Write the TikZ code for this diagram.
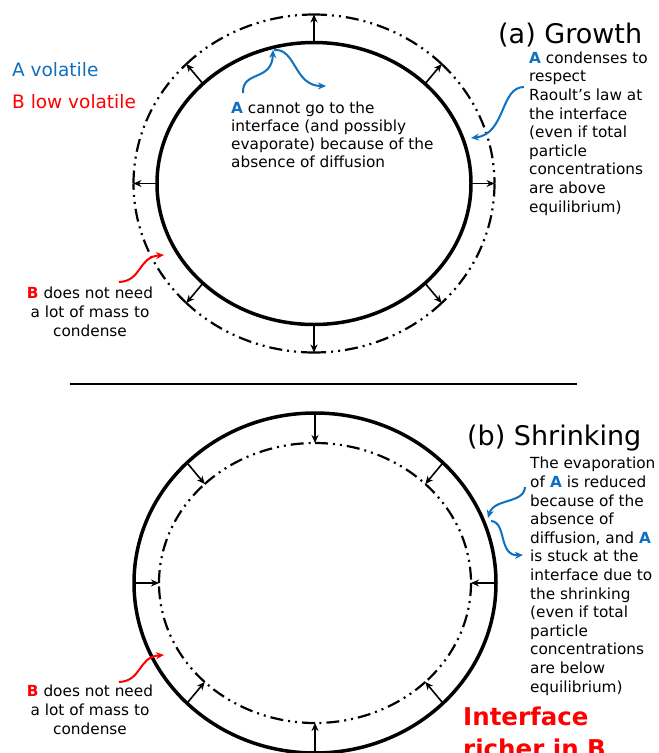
\documentclass[tikz,border=0pt]{standalone}
\usepackage{fontspec}
\setmainfont{DejaVu Sans}
\usetikzlibrary{arrows.meta,calc}
\definecolor{ablue}{RGB}{16,112,192}
\definecolor{bred}{RGB}{255,0,0}
\newcommand{\Abold}{\textbf{\textcolor{ablue}{A}}}
\newcommand{\Bbold}{\textbf{\textcolor{bred}{B}}}
\begin{document}
\begin{tikzpicture}[x=1pt,y=-1pt,
  body/.style={font=\fontsize{15.3}{18.6}\selectfont, align=left, inner sep=0pt, anchor=base west},
  bodyc/.style={font=\fontsize{15.3}{18.6}\selectfont, align=center, inner sep=0pt, anchor=base},
  legend/.style={font=\fontsize{18.5}{22}\selectfont, inner sep=0pt, anchor=base west},
  title/.style={font=\fontsize{27}{32}\selectfont, inner sep=0pt, anchor=base west},
  solidring/.style={line width=3.5pt},
  dashring/.style={line width=2.2pt, dash pattern=on 13pt off 5pt on 2pt off 5pt on 2pt off 5pt},
  radarrow/.style={line width=1.6pt, -{Stealth[length=8pt,width=7pt]}},
  bluecurve/.style={ablue, line width=2pt, -{Stealth[length=8pt,width=7pt]}},
  redcurve/.style={bred, line width=2pt, -{Stealth[length=8pt,width=7pt]}}]
\useasboundingbox (0,0) rectangle (659,753);
\fill[white] (0,0) rectangle (659,753);

% ---------- (a) Growth ----------
\coordinate (tc) at (314,183.5);
\draw[solidring] (tc) ellipse [x radius=157, y radius=141];
\foreach \a in {0,45,...,315} {
  \coordinate (ti\a) at ($(tc)+(\a:157 and 141)$);
  \coordinate (to\a) at ($(tc)+(\a:180.5 and 169)$);
  \draw[dashring] (to\a) arc[start angle=\a, delta angle=45, x radius=180.5, y radius=169];
  \draw[radarrow] (ti\a) -- (to\a);
}

\node[legend, text=ablue] (la) at (12,76) {A volatile};
\node[legend, text=bred] (lb) at (12,108) {B low volatile};
\node[title] (ga) at (498,43) {(a) Growth};

% base anchor of a multi-line node = baseline of its last line
\node[body, font=\fontsize{15.3}{18}\selectfont] (ta) at (231,167) {\Abold{} cannot go to the\\interface (and possibly\\evaporate) because of the\\absence of diffusion};
\node[body] (tr) at (529,212) {\Abold{} condenses to\\respect\\Raoult’s law at\\the interface\\(even if total\\particle\\concentrations\\are above\\equilibrium)};
\node[bodyc] (tb) at (90,336) {\Bbold{} does not need\\a lot of mass to\\condense};

\coordinate (c1s) at (243,93);
\coordinate (c1e) at (273,50);
\coordinate (c2s) at (274,50);
\coordinate (c2e) at (326,86);
\coordinate (c3s) at (524,87);
\coordinate (c3e) at (471,138);
\coordinate (c4s) at (119,282);
\coordinate (c4e) at (164,255);
\draw[bluecurve] (c1s) .. controls (242,70) and (272,82) .. (c1e);
\draw[bluecurve] (c2s) .. controls (296,48) and (294,86) .. (c2e);
\draw[bluecurve] (c3s) .. controls (500,87) and (506,134) .. (c3e);
\draw[redcurve] (c4s) .. controls (142,281) and (138,257) .. (c4e);

% ---------- divider ----------
\coordinate (dl) at (70,384);
\coordinate (dr) at (577,384);
\draw[line width=1.2pt] (dl) -- (dr);

% ---------- (b) Shrinking ----------
\coordinate (bc) at (315,583);
\draw[solidring] (bc) ellipse [x radius=181, y radius=170];
\foreach \a in {0,45,...,315} {
  \coordinate (bo\a) at ($(bc)+(\a:181 and 170)$);
  \coordinate (bi\a) at ($(bc)+(\a:156 and 140)$);
  \draw[dashring] (bi\a) arc[start angle=\a, delta angle=45, x radius=156, y radius=140];
  \draw[radarrow] (bo\a) -- (bi\a);
}

\node[title] (gb) at (467,445) {(b) Shrinking};
\node[body] (br) at (530,692) {The evaporation\\of \Abold{} is reduced\\because of the\\absence of\\diffusion, and \Abold\\is stuck at the\\interface due to\\the shrinking\\(even if total\\particle\\concentrations\\are below\\equilibrium)};
\node[bodyc] (bb) at (90,734) {\Bbold{} does not need\\a lot of mass to\\condense};
\node[inner sep=0pt, anchor=base west, align=left, text=bred, font=\fontsize{24.5}{32}\selectfont\bfseries] (ir) at (463,757) {Interface\\richer in B};

\coordinate (d1s) at (525,487);
\coordinate (d1e) at (488,518);
\coordinate (d2s) at (491,521);
\coordinate (d2e) at (523,555);
\coordinate (d3s) at (119,682);
\coordinate (d3e) at (164,655);
\draw[bluecurve] (d1s) .. controls (524,504) and (494,498) .. (d1e);
\draw[bluecurve] (d2s) .. controls (507,522) and (498,556) .. (d2e);
\draw[redcurve] (d3s) .. controls (142,681) and (138,657) .. (d3e);
\end{tikzpicture}
\end{document}
